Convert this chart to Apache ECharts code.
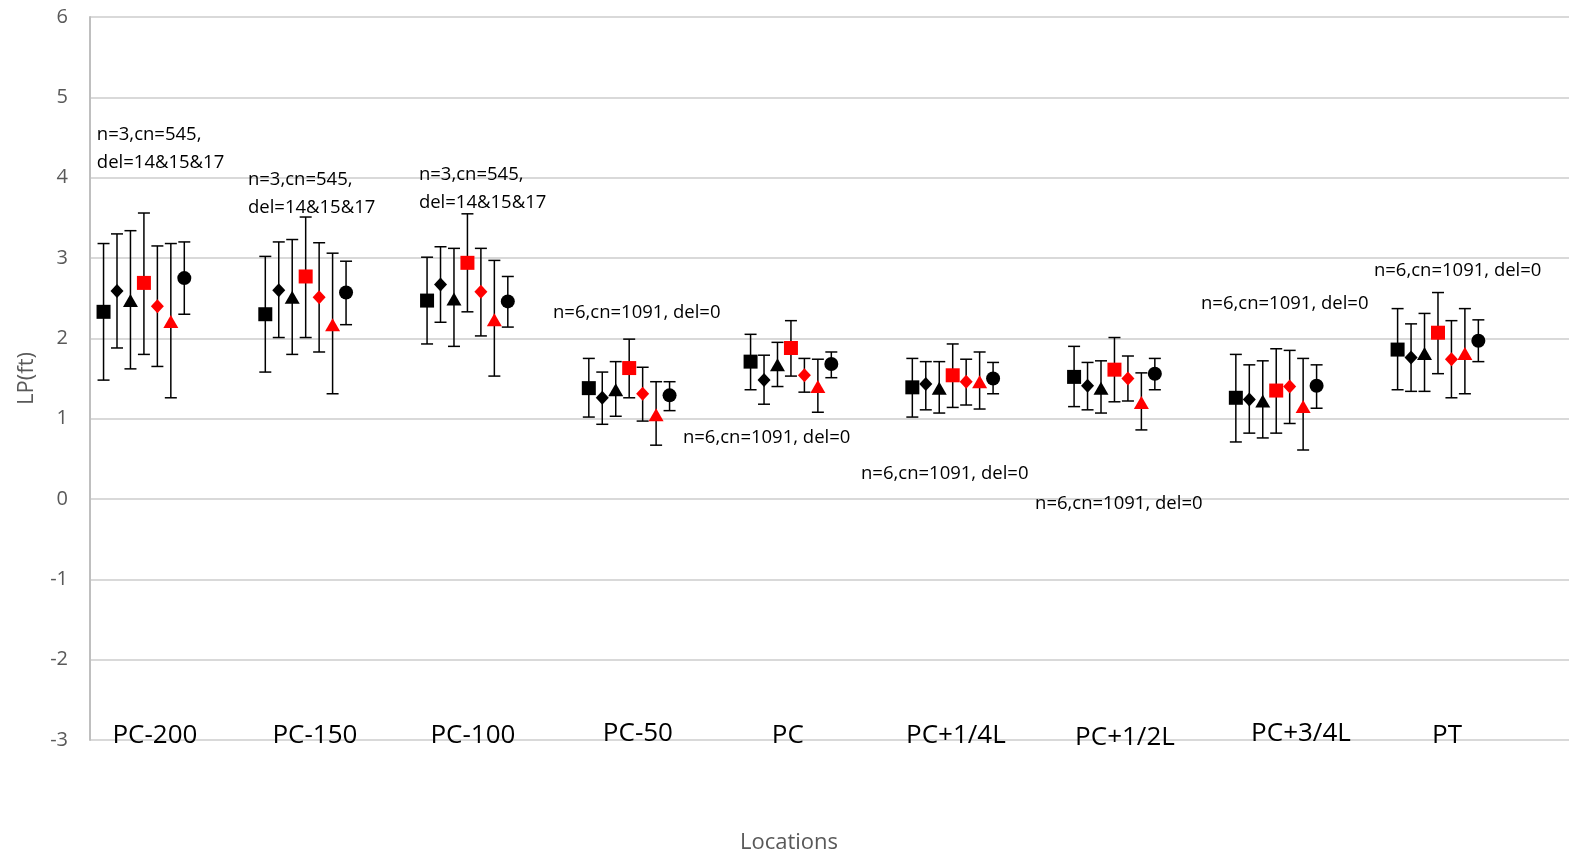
<!DOCTYPE html>
<html>
<head>
<meta charset="utf-8">
<script src="https://cdn.jsdelivr.net/npm/echarts@6/dist/echarts.min.js"></script>
<style>
html,body{margin:0;padding:0;background:#fff;}
#chart{width:1569px;height:854px;}
</style>
</head>
<body>
<div id="chart"></div>
<script>
// ---- Data ----
const categories = ['PC-200','PC-150','PC-100','PC-50','PC','PC+1/4L','PC+1/2L','PC+3/4L','PT'];
const yTicks = [-3,-2,-1,0,1,2,3,4,5,6];

const blackSquareMean = [2.33, 2.30, 2.47, 1.38, 1.71, 1.39, 1.52, 1.26, 1.86];
const blackSquareHigh = [3.18, 3.02, 3.01, 1.75, 2.05, 1.75, 1.90, 1.80, 2.37];
const blackSquareLow  = [1.48, 1.58, 1.93, 1.02, 1.36, 1.02, 1.15, 0.71, 1.36];

const blackDiamondMean = [2.59, 2.60, 2.67, 1.26, 1.48, 1.43, 1.41, 1.24, 1.76];
const blackDiamondHigh = [3.30, 3.20, 3.14, 1.58, 1.79, 1.71, 1.70, 1.67, 2.18];
const blackDiamondLow  = [1.88, 2.01, 2.20, 0.93, 1.18, 1.11, 1.11, 0.82, 1.34];

const blackTriangleMean = [2.47, 2.51, 2.49, 1.36, 1.67, 1.38, 1.38, 1.22, 1.81];
const blackTriangleHigh = [3.34, 3.23, 3.12, 1.71, 1.95, 1.71, 1.72, 1.72, 2.31];
const blackTriangleLow  = [1.62, 1.80, 1.90, 1.03, 1.40, 1.07, 1.07, 0.76, 1.34];

const redSquareMean = [2.69, 2.77, 2.94, 1.63, 1.88, 1.54, 1.61, 1.35, 2.07];
const redSquareHigh = [3.56, 3.51, 3.55, 1.99, 2.22, 1.93, 2.01, 1.87, 2.57];
const redSquareLow  = [1.80, 2.01, 2.33, 1.26, 1.53, 1.14, 1.21, 0.82, 1.56];

const redDiamondMean = [2.40, 2.51, 2.58, 1.31, 1.54, 1.46, 1.50, 1.40, 1.74];
const redDiamondHigh = [3.15, 3.19, 3.12, 1.64, 1.75, 1.74, 1.78, 1.85, 2.22];
const redDiamondLow  = [1.65, 1.83, 2.03, 0.97, 1.33, 1.17, 1.22, 0.94, 1.26];

const redTriangleMean = [2.21, 2.17, 2.23, 1.05, 1.40, 1.46, 1.20, 1.15, 1.81];
const redTriangleHigh = [3.18, 3.06, 2.97, 1.46, 1.74, 1.83, 1.57, 1.75, 2.37];
const redTriangleLow  = [1.26, 1.31, 1.53, 0.67, 1.08, 1.12, 0.86, 0.61, 1.31];

const blackCircleMean = [2.75, 2.57, 2.46, 1.29, 1.68, 1.50, 1.56, 1.41, 1.97];
const blackCircleHigh = [3.20, 2.96, 2.77, 1.46, 1.83, 1.70, 1.75, 1.67, 2.23];
const blackCircleLow  = [2.30, 2.17, 2.14, 1.10, 1.51, 1.31, 1.36, 1.13, 1.71];

// annotation texts
const annoTexts = [
  'n=3,cn=545,\ndel=14&15&17',
  'n=3,cn=545,\ndel=14&15&17',
  'n=3,cn=545,\ndel=14&15&17',
  'n=6,cn=1091, del=0',
  'n=6,cn=1091, del=0',
  'n=6,cn=1091, del=0',
  'n=6,cn=1091, del=0',
  'n=6,cn=1091, del=0',
  'n=6,cn=1091, del=0'
];
// annotation anchor (left edge x, middle y) in data units
const annoX = [0.709, 1.643, 2.700, 3.529, 4.332, 5.433, 6.509, 7.535, 8.604];
const annoY = [4.357, 3.803, 3.859, 2.315, 0.759, 0.311, -0.062, 2.427, 2.838];
// category label anchors in data units
const catLabelX = [1.068, 2.057, 3.034, 4.054, 4.981, 6.020, 7.065, 8.153, 9.056];
const catLabelY = [-2.94, -2.94, -2.94, -2.915, -2.94, -2.94, -2.965, -2.915, -2.94];

// ---- Series config ----
const seriesDefs = [
  {name:'S1', mean:blackSquareMean,   high:blackSquareHigh,   low:blackSquareLow,   symbol:'rect',     color:'#000000'},
  {name:'S2', mean:blackDiamondMean,  high:blackDiamondHigh,  low:blackDiamondLow,  symbol:'diamond',  color:'#000000'},
  {name:'S3', mean:blackTriangleMean, high:blackTriangleHigh, low:blackTriangleLow, symbol:'triangle', color:'#000000'},
  {name:'S4', mean:redSquareMean,     high:redSquareHigh,     low:redSquareLow,     symbol:'rect',     color:'#FF0000'},
  {name:'S5', mean:redDiamondMean,    high:redDiamondHigh,    low:redDiamondLow,    symbol:'diamond',  color:'#FF0000'},
  {name:'S6', mean:redTriangleMean,   high:redTriangleHigh,   low:redTriangleLow,   symbol:'triangle', color:'#FF0000'},
  {name:'S7', mean:blackCircleMean,   high:blackCircleHigh,   low:blackCircleLow,   symbol:'circle',   color:'#000000'}
];
const step = 0.0832;
const FONT = '"Open Sans", "Liberation Sans", sans-serif';
const symbolSizes = {rect: 14, diamond: [13, 14], triangle: [15, 13], circle: 14};

const series = [];
seriesDefs.forEach((d, j) => {
  const off = (j - 3) * step;
  series.push({
    type: 'custom',
    name: d.name + '-err',
    z: 2,
    data: d.mean.map((m, i) => [i + 1 + off, d.low[i], d.high[i]]),
    encode: {x: 0, y: [1, 2]},
    renderItem: function (params, api) {
      const x = api.value(0);
      const lo = api.coord([x, api.value(1)]);
      const hi = api.coord([x, api.value(2)]);
      const cap = 6;
      const st = {stroke: '#000', lineWidth: 1.5};
      return {
        type: 'group',
        children: [
          {type: 'line', shape: {x1: lo[0], y1: lo[1], x2: hi[0], y2: hi[1]}, style: st},
          {type: 'line', shape: {x1: hi[0] - cap, y1: hi[1], x2: hi[0] + cap, y2: hi[1]}, style: st},
          {type: 'line', shape: {x1: lo[0] - cap, y1: lo[1], x2: lo[0] + cap, y2: lo[1]}, style: st}
        ]
      };
    },
    silent: true
  });
});
seriesDefs.forEach((d, j) => {
  const off = (j - 3) * step;
  series.push({
    type: 'scatter',
    name: d.name,
    z: 3,
    symbol: d.symbol,
    symbolSize: symbolSizes[d.symbol],
    itemStyle: {color: d.color, opacity: 1},
    data: d.mean.map((m, i) => [i + 1 + off, m]),
    silent: true
  });
});
// annotations
series.push({
  type: 'custom',
  name: 'annotations',
  z: 4,
  data: annoTexts.map((t, i) => [annoX[i], annoY[i]]),
  renderItem: function (params, api) {
    const p = api.coord([api.value(0), api.value(1)]);
    return {
      type: 'text', x: p[0], y: p[1],
      style: {text: annoTexts[params.dataIndex], fill: '#000', font: '18.5px ' + FONT,
              textAlign: 'left', textVerticalAlign: 'middle', lineHeight: 28}
    };
  },
  silent: true
});
// category labels
series.push({
  type: 'custom',
  name: 'catLabels',
  z: 4,
  data: categories.map((c, i) => [catLabelX[i], catLabelY[i]]),
  renderItem: function (params, api) {
    const p = api.coord([api.value(0), api.value(1)]);
    return {
      type: 'text', x: p[0], y: p[1],
      style: {text: categories[params.dataIndex], fill: '#000', font: '26px ' + FONT,
              textAlign: 'center', textVerticalAlign: 'middle'}
    };
  },
  silent: true
});

const chart = echarts.init(document.getElementById('chart'), null, {renderer: 'canvas'});
chart.setOption({
  animation: false,
  backgroundColor: '#ffffff',
  grid: {left: 90, right: 0, top: 17, bottom: 114, containLabel: false},
  xAxis: {
    type: 'value', min: 2 / 3, max: 9.81,
    axisLine: {show: false}, axisTick: {show: false}, axisLabel: {show: false},
    splitLine: {show: false}
  },
  yAxis: {
    type: 'value', min: yTicks[0], max: yTicks[yTicks.length - 1], interval: 1,
    name: 'LP(ft)', nameLocation: 'middle', nameRotate: 90, nameGap: 52,
    nameTextStyle: {color: '#595959', fontSize: 22, fontFamily: FONT},
    axisLine: {show: true, lineStyle: {color: '#BFBFBF', width: 2}},
    axisTick: {show: false},
    axisLabel: {color: '#595959', fontSize: 20, fontFamily: FONT, margin: 22},
    splitLine: {show: true, lineStyle: {color: '#D9D9D9', width: 2}}
  },
  graphic: [{
    type: 'text', x: 789, y: 843,
    style: {text: 'Locations', fill: '#595959', font: '22px ' + FONT,
            textAlign: 'center', textVerticalAlign: 'middle'}
  }],
  series: series
});
</script>
</body>
</html>
